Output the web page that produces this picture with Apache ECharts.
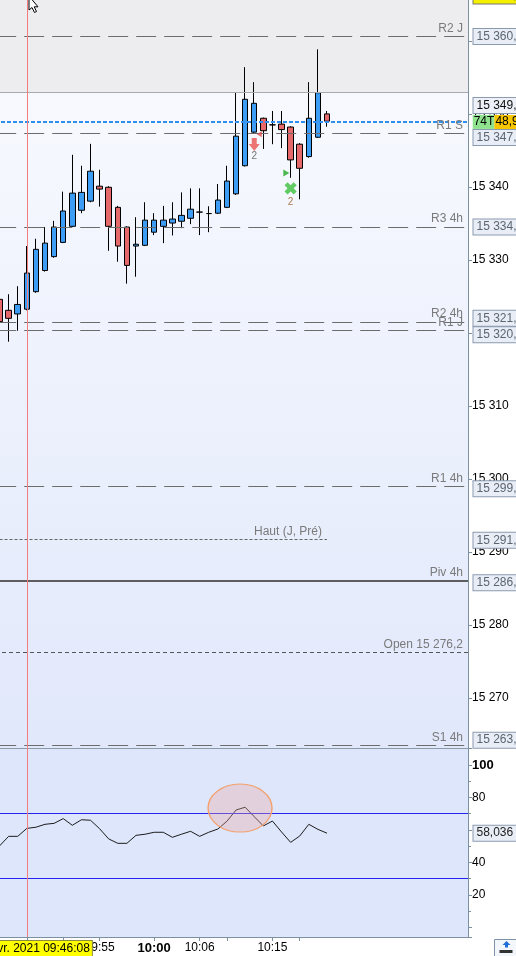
<!DOCTYPE html>
<html><head><meta charset="utf-8">
<script src="https://cdn.jsdelivr.net/npm/echarts@6/dist/echarts.min.js"></script>
<style>html,body{margin:0;padding:0;background:#fff;overflow:hidden;width:516px;height:956px;position:relative}#c{position:absolute;left:-5px;top:0;width:521px;height:956px}</style>
</head><body><div id="c"></div>
<script>
// ---------------- data ----------------
const SLOT_COUNT = 52;
const categories = Array.from({length: SLOT_COUNT}, (_, i) => 'b' + i);
const labelSlots = [11, 17, 22, 30];
const labelTexts = ['09:55', '10:00', '10:06', '10:15'];
const tickSlots = [3, 7, 11, 17, 22, 25, 30, 33];

const opens  = [15324.6,15323.1,15322.6,15323.25,15325.65,15328.55,15330.45,15332.4,15334.6,15336.8,15338.05,15340.1,15339.95,15337.2,15334.5,15331.9,15332.0,15333.8,15334.6,15335.05,15335.3,15335.7,15336.55,15336.35,15336.4,15337.2,15339.05,15342.9,15347.5,15349.4,15348.5,15348.6,15348.2,15345.85,15344.15,15346.8,15350.0];
const closes = [15321.55,15322.0,15323.9,15328.2,15331.45,15332.3,15334.5,15336.7,15339.15,15339.25,15342.15,15339.7,15334.6,15331.9,15329.25,15332.15,15335.45,15335.45,15335.45,15335.6,15336.1,15336.95,15336.55,15336.35,15338.2,15340.8,15346.95,15352.0,15351.45,15347.7,15348.5,15347.85,15343.7,15342.55,15349.4,15352.9,15349.0];
const lows   = [15320.5,15318.8,15320.3,15323.1,15325.5,15328.4,15330.3,15332.3,15334.5,15336.4,15337.9,15337.3,15331.25,15329.75,15326.75,15327.7,15331.9,15333.4,15332.3,15333.35,15334.35,15334.9,15333.4,15333.8,15336.3,15337.1,15338.9,15342.8,15347.4,15345.2,15345.85,15345.3,15341.25,15338.3,15344.0,15346.7,15348.25];
const highs  = [15325.5,15325.3,15326.4,15331.9,15332.9,15334.5,15335.35,15339.35,15344.4,15342.9,15345.9,15342.35,15340.1,15337.4,15334.6,15335.85,15337.9,15336.4,15337.4,15337.9,15339.25,15339.8,15339.8,15337.35,15340.4,15342.9,15352.9,15356.4,15354.35,15349.5,15350.4,15350.4,15348.3,15346.0,15354.35,15358.85,15350.4];

const rsiValues = [50.2,56.1,56.1,61.0,61.7,63.5,64.1,67.0,62.9,66.3,66.0,60.8,54.5,51.8,51.8,56.7,57.4,58.6,58.6,55.5,57.4,59.2,56.1,58.6,60.6,65.4,72.3,74.0,68.2,62.5,65.5,58.8,52.4,56.3,63.5,60.4,58.036];
const rsiLevels = [70, 30];
const rsiLastLabel = '58,036';

const levelNames  = ['R2 J','R1 S','R3 4h','R2 4h','R1 J','R1 4h','Haut (J, Pré)','Piv 4h','Open 15 276,2','S1 4h'];
const levelValues = [15360.6,15347.3,15334.5,15321.5,15320.3,15299.0,15291.7,15286.0,15276.2,15263.5];
const levelBoxes  = ['15 360,6','15 347,3','15 334,5','15 321,5','15 320,3','15 299,0','15 291,7','15 286,0','','15 263,5'];

const priceMin = 15263.15, priceMax = 15365.6;
const sessionFloor = 15353.0;
const lastPrice = 15348.9, lastPriceText = '48,9', ticksLeftText = '74T';
const lastCloseValue = 15349.3, lastCloseText = '15 349,3';
const topBoxValue = 15365.0, topBoxText = '15 366,2';
const cursorSlot = 3, cursorText = '15 avr. 2021 09:46:08';
const highlightSlot = 26, highlightValue = 73.5;

const signalSlots  = [28, 28, 32, 32];
const signalPrices = [15345.8, 15347.2, 15341.9, 15339.8];
const signalKinds  = ['sellArrow', 'sellTri', 'buyTri', 'buyCross'];
const signalCounts = ['2', '', '', '2'];

// ---------------- chart ----------------
const FONT = "'Liberation Sans', Arial, sans-serif";
const AXIS_COL = '#7d909f';
const NONE = 'rgba(0,0,0,0)';
const candleData = opens.map((o, i) => [o, closes[i], lows[i], highs[i]]);
const fmtPrice = v => Number.isInteger(v) ? String(v).replace(/(\d+)(\d{3})$/, '$1 $2') : '';

const levelStyle = name => {
  if (name.startsWith('Haut')) return {color:'#666', width:1, type:[3,2]};
  if (name.startsWith('Piv')) return {color:'#5e5e5e', width:2, type:'solid'};
  if (name.startsWith('Open')) return {color:'#555', width:1, type:[4,3]};
  return {color:'#6c6c6c', width:1, type:[20,8], dashOffset:-1.2};
};
const boxShift = {'R1 S':4,'R2 4h':-3.7,'R1 J':4,'R1 4h':2.4,'Haut (J, Pré)':0.7,'Piv 4h':1.5,'S1 4h':-5.3};

function boxLabel(text, dy, extra) {
  return Object.assign({show:true, position:'end', distance:5.5, formatter:text, offset:[0, dy],
    backgroundColor:'#e9eef6', borderColor:'#8a9bb0', borderWidth:1, padding:[1,3,1,3],
    color:'#5b6572', fontSize:12, lineHeight:13, fontFamily:FONT, opacity:1}, extra || {});
}
const hidden = {color:NONE, width:1, type:'solid', opacity:1};

const levelLines = [];
levelNames.forEach((name, i) => {
  const v = levelValues[i];
  const nameLabel = {show:true, position:'insideEndTop', formatter:name, color:'#7a7a7a',
    fontSize:12, fontFamily:FONT, distance:[5,2]};
  if (name.startsWith('Haut')) {
    levelLines.push([{xAxis:0, yAxis:v, lineStyle:levelStyle(name), label:nameLabel}, {xAxis:36, yAxis:v}]);
  } else {
    levelLines.push({yAxis:v, lineStyle:levelStyle(name), label:nameLabel});
  }
  if (levelBoxes[i]) levelLines.push({yAxis:v, lineStyle:hidden, label:boxLabel(levelBoxes[i], boxShift[name] || 0)});
});
levelLines.push({yAxis:sessionFloor, lineStyle:{color:'#a9a9ab', width:1, type:'solid'}, label:{show:false}});
levelLines.push({yAxis:lastCloseValue, lineStyle:hidden, label:boxLabel(lastCloseText, -13.5, {color:'#111', backgroundColor:'#eef2f8'})});
levelLines.push({yAxis:topBoxValue, lineStyle:hidden, label:boxLabel(topBoxText, -8.5, {color:'#111', backgroundColor:'#f4f000', borderColor:'#777'})});
levelLines.push({yAxis:lastPrice, lineStyle:{color:'#2e8ff0', width:2, type:[4,2]},
  label:{show:true, position:'end', distance:4.7, formatter:'{g|' + ticksLeftText + '}{y|' + lastPriceText + '}',
    rich:{g:{backgroundColor:'#8fe38f', color:'#000', padding:[1,0,1,1], fontSize:12, lineHeight:14, fontFamily:FONT},
          y:{backgroundColor:'#f7c600', color:'#000', padding:[1,12,1,1], fontSize:12, lineHeight:14, fontFamily:FONT}}}});
levelLines.push({xAxis:cursorSlot, lineStyle:{color:'#f47c7c', width:1, type:'solid'}, label:{show:false}});

const signalSymbol = {
  sellArrow:{symbol:'path://M3,0 L8,0 L8,6 L11,6 L5.5,13 L0,6 L3,6 Z', symbolSize:[11,13], color:'#ea5350', label:{color:'#555'}},
  sellTri:{symbol:'triangle', symbolSize:[6,5], symbolRotate:90, symbolOffset:[5,0], color:'#e25050'},
  buyTri:{symbol:'triangle', symbolSize:[7,6], symbolRotate:-90, symbolOffset:[-4.3,0], color:'#22a822'},
  buyCross:{symbol:'path://M4,0 H8 V4 H12 V8 H8 V12 H4 V8 H0 V4 H4 Z', symbolSize:13, symbolRotate:45, color:'#3cbf3c', label:{color:'#9a5a22'}}
};
const signalData = signalSlots.map((s, i) => {
  const st = signalSymbol[signalKinds[i]];
  return {value:[s, signalPrices[i]], symbol:st.symbol, symbolSize:st.symbolSize, symbolRotate:st.symbolRotate || 0,
    symbolOffset:st.symbolOffset || [0,0], itemStyle:{color:st.color},
    label:{show:!!signalCounts[i], formatter:signalCounts[i], position:'bottom', distance:0, fontSize:10, fontFamily:FONT,
      color:(st.label || {}).color || '#555'}};
});

const chart = echarts.init(document.getElementById('c'), null, {renderer:'canvas'});
chart.setOption({
  animation:false,
  backgroundColor:'#ffffff',
  textStyle:{fontFamily:FONT},
  grid:[
    {left:0, top:0, width:473, height:748, show:true, borderWidth:0,
     backgroundColor:new echarts.graphic.LinearGradient(0,0,0,1,[{offset:0,color:'#fafbff'},{offset:0.123,color:'#f7f9fe'},{offset:1,color:'#e1e8fb'}])},
    {left:0, top:748, width:473, height:189, show:true, borderWidth:0, backgroundColor:'#dde6fb'}
  ],
  xAxis:[
    {gridIndex:0, type:'category', data:categories, boundaryGap:true,
     axisLine:{show:true, onZero:false, lineStyle:{color:'#8a9aa8', width:1}}, axisTick:{show:false}, axisLabel:{show:false}, splitLine:{show:false}},
    {gridIndex:1, type:'category', data:categories, boundaryGap:true,
     axisLine:{show:true, onZero:false, lineStyle:{color:AXIS_COL, width:1}},
     axisTick:{show:true, alignWithLabel:true, length:4, interval:(i) => tickSlots.includes(i), lineStyle:{color:AXIS_COL}},
     axisLabel:{show:true, interval:(i) => labelSlots.includes(i), color:'#000', fontSize:12, fontFamily:FONT, margin:5,
       formatter:(v, i) => { const k = labelSlots.indexOf(i); if (k < 0) return ''; const t = labelTexts[k]; return t === '10:00' ? '{b|' + t + '}' : t; },
       rich:{b:{fontWeight:'bold', fontSize:13, color:'#000', fontFamily:FONT}}},
     splitLine:{show:false}}
  ],
  yAxis:[
    {gridIndex:0, type:'value', position:'right', min:priceMin, max:priceMax, splitNumber:10,
     axisLine:{show:true, onZero:false, lineStyle:{color:AXIS_COL, width:1}},
     axisTick:{show:true, length:4, lineStyle:{color:AXIS_COL}},
     splitLine:{show:false},
     axisLabel:{show:true, color:'#000', fontSize:12, fontFamily:FONT, margin:4, showMinLabel:false, showMaxLabel:false, formatter:fmtPrice}},
    {gridIndex:1, type:'value', position:'right', min:-5.85, max:110.46, splitNumber:6,
     axisLine:{show:true, onZero:false, lineStyle:{color:AXIS_COL, width:1}},
     axisTick:{show:true, length:4, lineStyle:{color:AXIS_COL}},
     minorTick:{show:true, splitNumber:2, length:3, lineStyle:{color:AXIS_COL}},
     splitLine:{show:false},
     axisLabel:{show:true, color:'#000', fontSize:12, fontFamily:FONT, margin:4, showMinLabel:false, showMaxLabel:false,
       formatter:v => v === 100 ? '{b|100}' : ([20,40,80].includes(v) ? String(v) : ''),
       rich:{b:{fontWeight:'bold', fontSize:13, color:'#000', fontFamily:FONT}}}}
  ],
  series:[
    {name:'session', type:'line', xAxisIndex:0, yAxisIndex:0, data:[], z:1, silent:true,
     markArea:{silent:true, itemStyle:{color:'#ededf0'}, data:[[{yAxis:sessionFloor},{yAxis:priceMax}]]}},
    {name:'prix', type:'candlestick', xAxisIndex:0, yAxisIndex:0, data:candleData, barWidth:6, z:2,
     itemStyle:{color:'#3d9df5', color0:'#e5696a', borderColor:'#000', borderColor0:'#000', borderColorDoji:'#000', borderWidth:1}},
    {name:'niveaux', type:'line', xAxisIndex:0, yAxisIndex:0, data:[], z:4, silent:true,
     markLine:{silent:true, symbol:['none','none'], animation:false, precision:3, data:levelLines}},
    {name:'signaux', type:'scatter', xAxisIndex:0, yAxisIndex:0, data:signalData, z:5, silent:true},
    {name:'bandes', type:'line', xAxisIndex:1, yAxisIndex:1, data:[], z:2, silent:true, color:'#2424f0',
     markLine:{silent:true, symbol:['none','none'], animation:false, lineStyle:{color:'#2424f0', width:1, type:'solid'},
       label:{show:false}, data:rsiLevels.map(v => ({yAxis:v, lineStyle:{color:'#2424f0', width:1, type:'solid'}}))}},
    {name:'RSI', type:'line', xAxisIndex:1, yAxisIndex:1, data:rsiValues, showSymbol:false, z:3, silent:true,
     lineStyle:{color:'#1c1c1c', width:1}, itemStyle:{color:'#1c1c1c'},
     markLine:{silent:true, symbol:['none','none'], animation:false, precision:3, data:[
       {yAxis:rsiValues[rsiValues.length-1], lineStyle:hidden, label:boxLabel(rsiLastLabel, 0, {color:'#222'})},
       {xAxis:cursorSlot, lineStyle:{color:'#f47c7c', width:1, type:'solid'},
        label:{show:true, position:'start', distance:4, offset:[5,0], formatter:cursorText, backgroundColor:'#ffff00', borderColor:'#8c8c3c',
          borderWidth:1, padding:[1,2,0,2], color:'#000', fontSize:12, lineHeight:14, fontFamily:FONT}}
     ]},
     markPoint:{silent:true, data:[{coord:[highlightSlot, highlightValue], symbol:'circle', symbolSize:[64,48], symbolOffset:[4,0],
       itemStyle:{color:'rgba(236,165,160,0.33)', borderColor:'#f4a06c', borderWidth:1.2}, label:{show:false}}]}}
  ],
  graphic:[
    {type:'polygon', z:100, shape:{points:[[34,-4],[34,10],[37,7.5],[39.5,12.5],[41.5,11.5],[39.2,6.8],[43,6.8]]},
     style:{fill:'#fff', stroke:'#000', lineWidth:1}},
    {type:'group', left:499, top:939, z:100, children:[
      {type:'rect', shape:{x:0, y:0, width:23, height:17}, style:{fill:'#f3f6fb', stroke:'#7f93a8', lineWidth:1}},
      {type:'polygon', shape:{points:[[12,1.5],[16,5.5],[13.5,5.5],[13.5,8],[10.5,8],[10.5,5.5],[8,5.5]]}, style:{fill:'#1f6fd6'}},
      {type:'rect', shape:{x:5, y:10.5, width:13, height:3}, style:{fill:'#333'}}
    ]}
  ]
});
</script>
</body></html>
